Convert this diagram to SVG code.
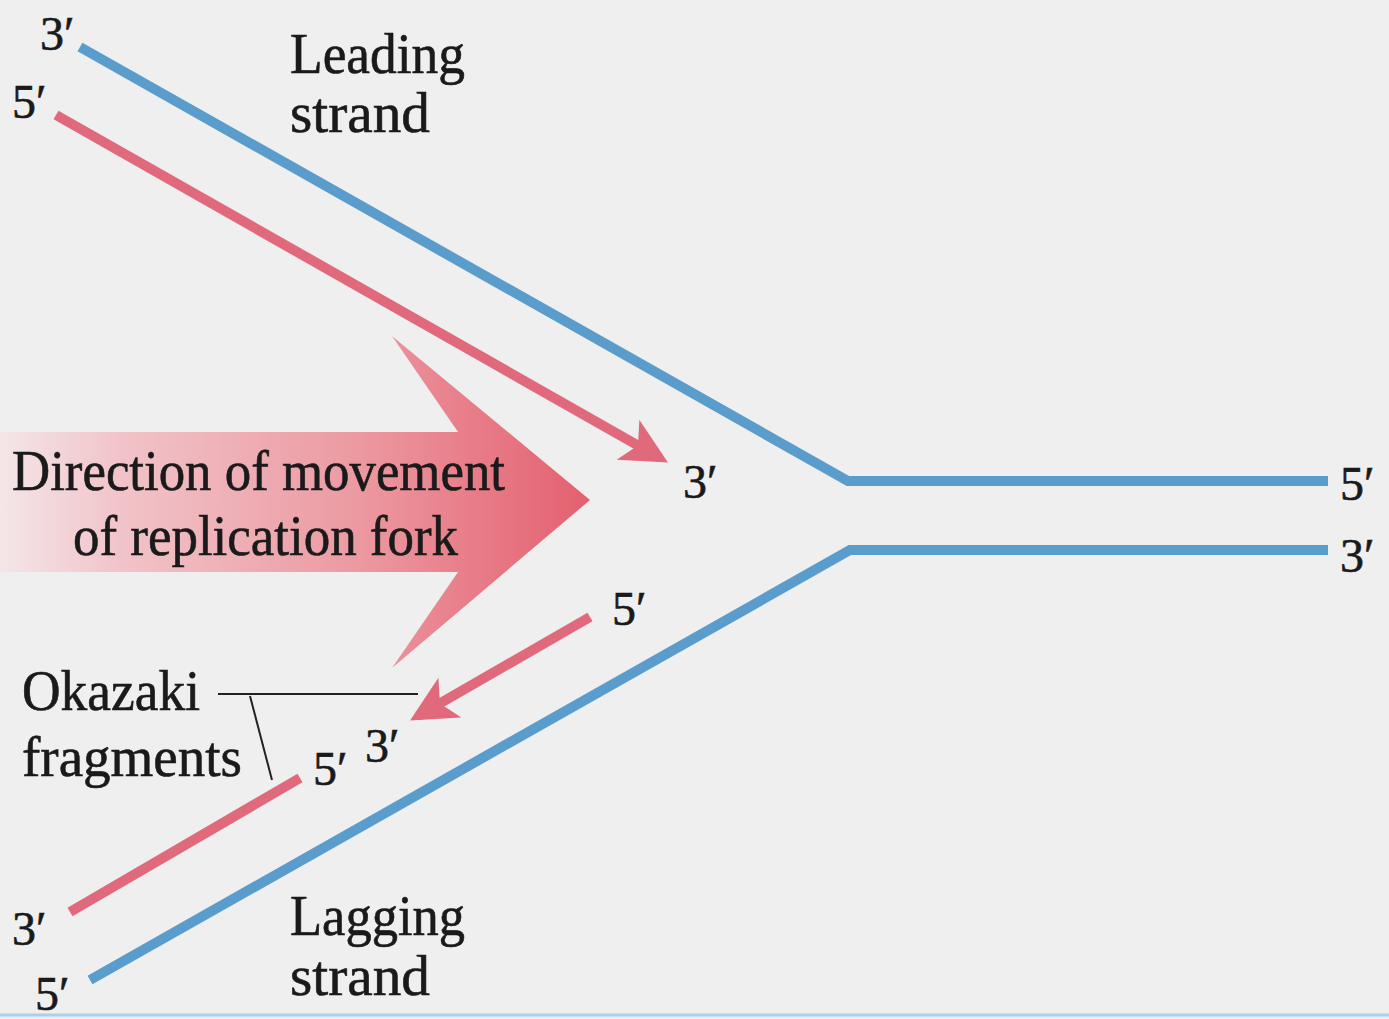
<svg xmlns="http://www.w3.org/2000/svg" width="1389" height="1019" viewBox="0 0 1389 1019">
<style>
text{font-family:'Liberation Serif','Times New Roman',serif;fill:#1a1a1a;stroke:#1a1a1a;stroke-width:0.6}
.lbl{font-size:56px}
.end{font-size:48px}
.blue{stroke:#5a9dcc;stroke-width:10;fill:none;stroke-linejoin:miter}
.red{stroke:#e06a7c;stroke-width:10;fill:none}
.thin{stroke:#222;stroke-width:2;fill:none}
</style>
<defs>
<linearGradient id="g" x1="0" y1="0" x2="590" y2="0" gradientUnits="userSpaceOnUse">
<stop offset="0" stop-color="#f4e6e8"/>
<stop offset="0.2" stop-color="#f1c4c9"/>
<stop offset="0.6" stop-color="#ec9aa2"/>
<stop offset="1" stop-color="#e4606f"/>
</linearGradient>
<marker id="ah" viewBox="0 0 10 10" refX="8" refY="5" markerWidth="4.6" markerHeight="4.6" orient="auto" markerUnits="strokeWidth">
<path d="M0,0 L10,5 L0,10 L2.5,5 Z" fill="#e06a7c"/>
</marker>
</defs>
<rect width="1389" height="1019" fill="#efefef"/>
<line x1="0" y1="1015" x2="1389" y2="1015" stroke="#a9d0ef" stroke-width="3"/>
<g id="fork-arrow">
<path d="M0,432 L458,432 L392,336 L590,500 L392,668 L458,572 L0,572 Z" fill="url(#g)"/>
<text class="lbl" x="12" y="490" textLength="493" lengthAdjust="spacingAndGlyphs">Direction of movement</text>
<text class="lbl" x="73" y="555" textLength="385" lengthAdjust="spacingAndGlyphs">of replication fork</text>
</g>
<g id="connectors">
<polyline class="blue" points="80,47 848,481 1328,481"/>
<polyline class="blue" points="90,980 850,550 1328,550"/>
<line class="red" x1="56" y1="115" x2="660" y2="458" marker-end="url(#ah)"/>
<line class="red" x1="590" y1="617" x2="418" y2="716" marker-end="url(#ah)"/>
<line class="red" x1="70" y1="912" x2="300" y2="778"/>
<line class="thin" x1="218" y1="694" x2="418" y2="694"/>
<line class="thin" x1="250" y1="696" x2="272" y2="780"/>
</g>
<g id="leading">
<text class="lbl" x="290" y="73" textLength="175" lengthAdjust="spacingAndGlyphs">Leading</text>
<text class="lbl" x="290" y="132" textLength="140" lengthAdjust="spacingAndGlyphs">strand</text>
</g>
<g id="lagging">
<text class="lbl" x="290" y="935" textLength="175" lengthAdjust="spacingAndGlyphs">Lagging</text>
<text class="lbl" x="290" y="995" textLength="140" lengthAdjust="spacingAndGlyphs">strand</text>
</g>
<g id="okazaki">
<text class="lbl" x="22" y="710" textLength="178" lengthAdjust="spacingAndGlyphs">Okazaki</text>
<text class="lbl" x="22" y="776" textLength="220" lengthAdjust="spacingAndGlyphs">fragments</text>
</g>
<g id="ends">
<text class="end" x="40" y="50">3′</text>
<text class="end" x="12" y="118">5′</text>
<text class="end" x="683" y="498">3′</text>
<text class="end" x="1340" y="500">5′</text>
<text class="end" x="1340" y="572">3′</text>
<text class="end" x="612" y="625">5′</text>
<text class="end" x="365" y="762">3′</text>
<text class="end" x="313" y="785">5′</text>
<text class="end" x="12" y="945">3′</text>
<text class="end" x="35" y="1010">5′</text>
</g>
</svg>
